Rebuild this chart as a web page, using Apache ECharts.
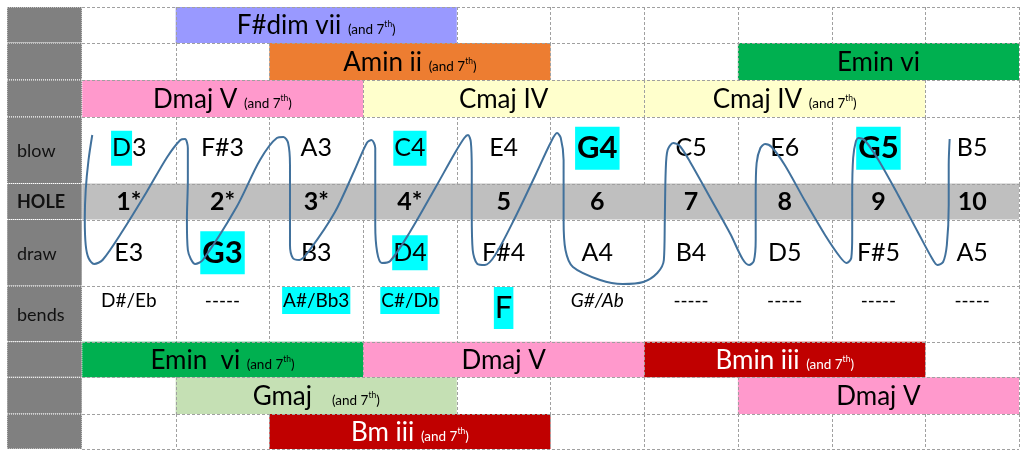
<!DOCTYPE html>
<html><head><meta charset="utf-8">
<script src="https://cdn.jsdelivr.net/npm/echarts@6/dist/echarts.min.js"></script>
<style>html,body{margin:0;padding:0;background:#fff}#c{width:1021px;height:454px}</style>
</head><body><div id="c"></div>
<script>
// ---------------- DATA ----------------
const holeLabels = ['1*','2*','3*','4*','5','6','7','8','9','10'];
const blowNotes  = ['D3','F#3','A3','C4','E4','G4','C5','E6','G5','B5'];
const drawNotes  = ['E3','G3','B3','D4','F#4','A4','B4','D5','F#5','A5'];
const bendNotes  = ['D#/Eb','-----','A#/Bb3','C#/Db','F','G#/Ab','-----','-----','-----','-----'];
const rowLabels  = ['', '', '', 'blow', 'HOLE', 'draw', 'bends', '', '', ''];

// chord bands: name, table row, first hole, last hole, "(and 7th)" note
const chordNames   = ['F#dim vii','Amin ii','Emin vi','Dmaj V','Cmaj IV','Cmaj IV','Emin  vi','Dmaj V','Bmin iii','Gmaj  ','Dmaj V','Bm iii'];
const chordRows    = [0, 1, 1, 2, 2, 2, 7, 7, 7, 8, 8, 9];
const chordFirst   = [2, 3, 8, 1, 4, 7, 1, 4, 7, 2, 8, 3];
const chordLast    = [4, 5, 10, 3, 6, 9, 3, 6, 9, 4, 10, 5];
const chordSeventh = [true, true, false, true, false, true, true, false, true, true, false, true];

// emphasis marks on notes
const blowMarks = ['first','','','hl','','boldHl','','','boldHl',''];
const drawMarks = ['','boldHl','','hl','','','','','',''];
const bendMarks = ['','','hl','hl','bigHl','italic','','','',''];

// hand-drawn path across the holes: [hole position, table position]
const curvePoints = [
 [0.11,128],[0.07,153],[0.04,183],[0.03,213],[0.04,238],[0.07,251],[0.13,257],[0.22,253],[0.44,223],[0.69,185],[0.91,150],[1.05,133],[1.10,132],[1.13,141],[1.13,173],[1.12,213],[1.13,243],[1.21,257],[1.29,253],[1.65,200],[1.90,153],[2.08,131],[2.15,130],[2.20,136],[2.22,158],[2.22,203],[2.22,238],[2.25,251],[2.32,253],[2.43,243],[2.70,205],[2.91,163],[3.04,136],[3.09,133],[3.13,141],[3.13,173],[3.13,218],[3.15,245],[3.20,256],[3.29,254],[3.50,225],[3.77,181],[3.98,146],[4.08,131],[4.12,128],[4.15,135],[4.16,163],[4.16,208],[4.17,243],[4.22,257],[4.30,258],[4.41,248],[4.62,211],[4.84,168],[5.00,136],[5.07,126],[5.11,131],[5.14,153],[5.14,213],[5.16,243],[5.24,260],[5.53,273],[5.77,277],[5.99,275],[6.14,266],[6.21,253],[6.22,213],[6.23,163],[6.25,143],[6.31,136],[6.38,139],[6.49,155],[6.70,190],[6.92,227],[7.05,252],[7.12,258],[7.17,254],[7.19,233],[7.19,188],[7.20,156],[7.24,141],[7.29,137],[7.36,140],[7.50,158],[7.71,193],[7.93,228],[8.09,250],[8.16,256],[8.21,251],[8.22,228],[8.22,188],[8.23,151],[8.26,134],[8.29,131],[8.36,134],[8.50,153],[8.71,188],[8.92,225],[9.07,251],[9.13,258],[9.19,255],[9.23,238],[9.25,198],[9.25,158],[9.26,132]
];

// ---------------- LAYOUT / STYLE ----------------
const rowEdges = [0, 36, 73, 110, 176.5, 212.5, 279, 334.7, 370.3, 407, 442];
const LABEL_MIN = -0.8, HOLES = 10;
const FONT = 'Lato';
const chordColors = ['#9999FF','#ED7D31','#00B050','#FF99CC','#FFFFCC','#FFFFCC','#00B050','#FF99CC','#C00000','#C5E0B4','#FF99CC','#C00000'];
const chordText   = ['#000','#000','#000','#000','#000','#000','#000','#000','#FFF','#000','#000','#FFF'];
const CYAN = '#00FFFF';
const GRID = '#A0A0A0';

const chart = echarts.init(document.getElementById('c'), null, {renderer: 'canvas'});

function rectOf(api) {
  const p0 = api.coord([api.value(0), api.value(2)]);
  const p1 = api.coord([api.value(1), api.value(3)]);
  return {x: p0[0], y: p0[1], w: p1[0] - p0[0], h: p1[1] - p0[1]};
}

// label column
const labelData = rowLabels.map((t, r) => [LABEL_MIN, 0, rowEdges[r], rowEdges[r + 1], r]);
function renderLabel(params, api) {
  const r = rectOf(api);
  const idx = api.value(4);
  return {type: 'group', children: [
    {type: 'rect', shape: {x: r.x, y: r.y, width: r.w, height: r.h}, style: {fill: '#808080', stroke: '#FFFFFF', lineWidth: 1, lineDash: [1, 1]}},
    {type: 'text', x: r.x + 10, y: r.y + r.h / 2 + 1, style: {text: rowLabels[idx], fill: '#111', fontFamily: FONT, fontSize: 18,
      fontWeight: idx === 4 ? 'bold' : 'normal', align: 'left', verticalAlign: 'middle'}}
  ]};
}

// hole row band
const holeBand = [[0, HOLES, rowEdges[4], rowEdges[5]]];
function renderBand(params, api) {
  const r = rectOf(api);
  return {type: 'rect', shape: {x: r.x, y: r.y, width: r.w, height: r.h}, style: {fill: '#BFBFBF'}};
}

// chords
const chordData = chordNames.map((n, i) => [chordFirst[i] - 1, chordLast[i], rowEdges[chordRows[i]], rowEdges[chordRows[i] + 1], i]);
function renderChord(params, api) {
  const r = rectOf(api);
  const i = api.value(4);
  const c = chordText[i];
  let text = '{m|' + chordNames[i] + '}';
  if (chordSeventh[i]) text += '{m| }{s|(and 7}{t|th}{s|)}';
  return {type: 'group', children: [
    {type: 'rect', shape: {x: r.x, y: r.y, width: r.w, height: r.h}, style: {fill: chordColors[i]}},
    {type: 'text', x: r.x + r.w / 2, y: r.y + r.h / 2 + 1, style: {
      text: text, align: 'center', verticalAlign: 'middle',
      rich: {
        m: {fontFamily: FONT, fontSize: 26, fill: c, verticalAlign: 'bottom'},
        s: {fontFamily: FONT, fontSize: 13.5, fill: c, verticalAlign: 'bottom', padding: [0, 0, 2, 0]},
        t: {fontFamily: FONT, fontSize: 8.5, fill: c, verticalAlign: 'bottom', padding: [0, 0, 10, 0]}
      }}}
  ]};
}

// grid lines
const lineData = [];
rowEdges.forEach(y => lineData.push([0, HOLES, y, y]));
for (let r = 0; r < rowEdges.length - 1; r++) {
  if (r === 4) { lineData.push([HOLES, HOLES, rowEdges[r], rowEdges[r + 1]]); continue; }
  for (let k = 0; k <= HOLES; k++) {
    let inside = false;
    chordRows.forEach((cr, i) => { if (cr === r && k > chordFirst[i] - 1 && k < chordLast[i]) inside = true; });
    if (!inside && k > 0) lineData.push([k, k, rowEdges[r], rowEdges[r + 1]]);
  }
}
function renderLine(params, api) {
  const r = rectOf(api);
  const x1 = Math.round(r.x) + 0.5;
  const y1 = Math.round(r.y) + 0.5;
  return {type: 'line', shape: {x1: r.w === 0 ? x1 : Math.round(r.x), y1: r.h === 0 ? y1 : Math.round(r.y), x2: r.w === 0 ? x1 : Math.round(r.x + r.w), y2: r.h === 0 ? y1 : Math.round(r.y + r.h)},
    style: {stroke: GRID, lineWidth: 1, lineDash: [3, 2]}};
}

// notes
const noteData = [];
holeLabels.forEach((h, i) => {
  noteData.push([i, i + 1, rowEdges[3], rowEdges[4], 0, i]);
  noteData.push([i, i + 1, rowEdges[4], rowEdges[5], 1, i]);
  noteData.push([i, i + 1, rowEdges[5], rowEdges[6], 2, i]);
  noteData.push([i, i + 1, rowEdges[6], rowEdges[7], 3, i]);
});
function noteText(txt, mark, base, bold) {
  const rich = {
    n: {fontFamily: FONT, fontSize: base, fill: '#000', fontWeight: bold ? 'bold' : 'normal'},
    h: {fontFamily: FONT, fontSize: base, fill: '#000', backgroundColor: CYAN, padding: [5, 1, 5, 1]},
    b: {fontFamily: FONT, fontSize: 31, fill: '#000', fontWeight: 'bold', backgroundColor: CYAN, padding: [6, 2, 6, 2]},
    g: {fontFamily: FONT, fontSize: 31, fill: '#000', backgroundColor: CYAN, padding: [5, 1, 6, 1]},
    i: {fontFamily: FONT, fontSize: base, fill: '#000', fontStyle: 'italic'}
  };
  let text;
  if (mark === 'first') text = '{h|' + txt.charAt(0) + '}{n|' + txt.slice(1) + '}';
  else if (mark === 'hl') text = '{h|' + txt + '}';
  else if (mark === 'boldHl') text = '{b|' + txt + '}';
  else if (mark === 'bigHl') text = '{g|' + txt + '}';
  else if (mark === 'italic') text = '{i|' + txt + '}';
  else text = '{n|' + txt + '}';
  return {text, rich};
}
function renderNote(params, api) {
  const r = rectOf(api);
  const kind = api.value(4), i = api.value(5);
  const cx = r.x + r.w / 2;
  let t, y = r.y + r.h / 2, va = 'middle';
  if (kind === 0) { t = noteText(blowNotes[i], blowMarks[i], 25, false); y -= 2; }
  else if (kind === 1) t = noteText(holeLabels[i], '', 25, true);
  else if (kind === 2) t = noteText(drawNotes[i], drawMarks[i], 25, false);
  else { t = noteText(bendNotes[i], bendMarks[i], 19, false); y = r.y + 1; va = 'top';
    t.rich.h.padding = [4, 1, 4, 1]; t.rich.n.padding = [4, 0, 4, 0]; t.rich.i.padding = [4, 0, 4, 0]; }
  return {type: 'text', x: cx, y: y, style: {text: t.text, rich: t.rich, align: 'center', verticalAlign: va}};
}

const option = {
  animation: false,
  grid: {left: 7, right: 2, top: 7, bottom: 5, containLabel: false},
  xAxis: {type: 'value', min: LABEL_MIN, max: HOLES, show: false},
  yAxis: {type: 'value', min: 0, max: rowEdges[rowEdges.length - 1], inverse: true, show: false},
  series: [
    {type: 'custom', z: 1, clip: false, data: holeBand, encode: {x: [0, 1], y: [2, 3]}, renderItem: renderBand, silent: true},
    {type: 'custom', z: 2, clip: false, data: chordData, encode: {x: [0, 1], y: [2, 3]}, renderItem: renderChord, silent: true},
    {type: 'custom', z: 3, clip: false, data: lineData, encode: {x: [0, 1], y: [2, 3]}, renderItem: renderLine, silent: true},
    {type: 'custom', z: 4, clip: false, data: labelData, encode: {x: [0, 1], y: [2, 3]}, renderItem: renderLabel, silent: true},
    {type: 'custom', z: 5, clip: false, data: noteData, encode: {x: [0, 1], y: [2, 3]}, renderItem: renderNote, silent: true},
    {type: 'line', z: 6, data: curvePoints, smooth: 0.3, symbol: 'none', silent: true,
      lineStyle: {color: '#41719C', width: 2}}
  ]
};
chart.setOption(option);
</script></body></html>
